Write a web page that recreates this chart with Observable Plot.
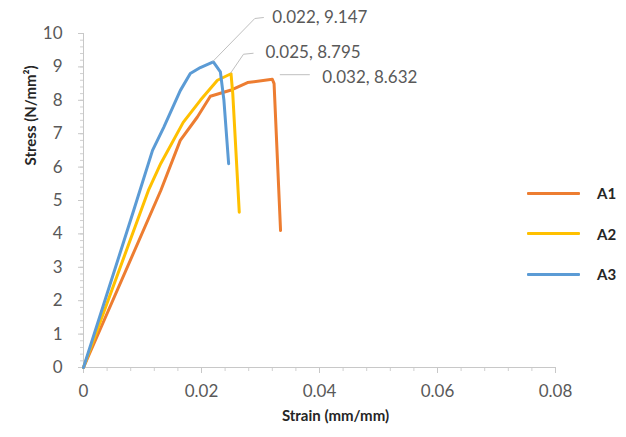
<!DOCTYPE html>
<html><head><meta charset="utf-8">
<script src="https://cdn.jsdelivr.net/npm/d3@7"></script>
<script src="https://cdn.jsdelivr.net/npm/@observablehq/plot@0.6"></script>
<style>
body{margin:0;background:#fff;}
#wrap{position:relative;width:626px;height:437px;}
#legend{position:absolute;left:527px;top:172.75px;font-family:Lato,sans-serif;font-weight:bold;font-size:15px;color:#262626;}
.item{display:flex;align-items:center;height:40.5px;}
.sw{width:53px;height:3px;margin-right:17px;border-radius:1px;}
</style></head><body><div id="wrap"><div id="legend"></div></div>
<script>
const seriesNames = ["A1", "A2", "A3"];
const seriesColors = ["#ED7D31", "#FFC000", "#5B9BD5"];

const a1Strain = [0, 0.0131, 0.0164, 0.0193, 0.0215, 0.0249, 0.0278, 0.032, 0.0323, 0.0334];
const a1Stress = [0, 5.3, 6.8, 7.5, 8.12, 8.3, 8.53, 8.632, 8.5, 4.1];

const a2Strain = [0, 0.0110, 0.0131, 0.0169, 0.0198, 0.0227, 0.025, 0.0253, 0.0264];
const a2Stress = [0, 5.3, 6.11, 7.34, 8.0, 8.6, 8.795, 8.2, 4.65];

const a3Strain = [0, 0.0085, 0.0117, 0.0136, 0.0164, 0.0181, 0.0198, 0.022, 0.0232, 0.0238, 0.0246];
const a3Stress = [0, 4.7, 6.5, 7.19, 8.29, 8.8, 8.98, 9.147, 8.85, 8.0, 6.1];

const peakStrain = [0.032, 0.025, 0.022];
const peakStress = [8.632, 8.795, 9.147];

const xTicks = [0, 0.02, 0.04, 0.06, 0.08];
const yTicks = [0, 1, 2, 3, 4, 5, 6, 7, 8, 9, 10];

const strains = [a1Strain, a2Strain, a3Strain];
const stresses = [a1Stress, a2Stress, a3Stress];
const table = seriesNames.flatMap((name, s) =>
  strains[s].map((x, i) => ({series: name, strain: x, stress: stresses[s][i]})));

// styling offsets (pixels) for leader lines and labels
const leaderOffsets = [
  [[8, -4], [38, -4]],
  [[0, 0], [13, -19], [23, -20]],
  [[0, 0], [42, -43], [51, -44]]
];
const labelOffsets = [[50, -2], [34.5, -21], [59, -44.5]];

const xMinor = d3.range(0, 0.0801, 0.004);
const yMinor = d3.range(0, 10.01, 0.2);

const marks = [
  Plot.axisY(yMinor, {tickSize: 3, text: null, label: null, stroke: "#d0d0d0"}),
  Plot.axisX(xMinor, {tickSize: 4, text: null, label: null, stroke: "#d0d0d0"}),
  Plot.axisY(yTicks, {tickSize: 5, tickPadding: 16, stroke: "#c8c8c8", fill: "#595959", fontSize: 17, label: null}),
  Plot.axisX(xTicks, {tickSize: 6, tickPadding: 11, stroke: "#c8c8c8", fill: "#595959", fontSize: 17, label: null, tickFormat: d => String(d)}),
  Plot.ruleX([0], {stroke: "#c8c8c8"}),
  Plot.ruleY([0], {stroke: "#c8c8c8"}),
  Plot.line(table, {x: "strain", y: "stress", stroke: "series", strokeWidth: 3, strokeLinejoin: "round", strokeLinecap: "round"}),
  (index, scales) => {
    const g = d3.create("svg:g");
    peakStrain.forEach((s, i) => {
      const px = scales.x(s), py = scales.y(peakStress[i]);
      const pts = leaderOffsets[i].map(([dx, dy]) => [px + dx, py + dy]);
      g.append("path").attr("d", d3.line()(pts)).attr("fill", "none")
        .attr("stroke", "#bfbfbf").attr("stroke-width", 1);
    });
    return g.node();
  },
  ...peakStrain.map((s, i) => Plot.text([i], {
    x: () => s, y: () => peakStress[i],
    text: () => `${s}, ${peakStress[i]}`,
    dx: labelOffsets[i][0], dy: labelOffsets[i][1],
    textAnchor: "start", fill: "#595959", fontSize: 17
  })),
  Plot.text(["Strain (mm/mm)"], {frameAnchor: "bottom", dx: 16, dy: 53, fontWeight: "bold", fontSize: 15, fill: "#262626"}),
  Plot.text(["Stress (N/mm²)"], {frameAnchor: "left", rotate: -90, dx: -52, dy: -35, fontWeight: "bold", fontSize: 15, fill: "#262626"})
];

const chart = Plot.plot({
  width: 626,
  height: 437,
  marginLeft: 83,
  marginRight: 71,
  marginTop: 33,
  marginBottom: 70,
  style: {fontFamily: "Lato, sans-serif", fontSize: "17px", background: "white", color: "#595959"},
  x: {domain: [0, 0.08], axis: null},
  y: {domain: [0, 10], axis: null},
  color: {domain: seriesNames, range: seriesColors},
  marks
});
document.getElementById("wrap").prepend(chart);

const legend = document.getElementById("legend");
seriesNames.forEach((n, i) => {
  const it = document.createElement("div");
  it.className = "item";
  const sw = document.createElement("div");
  sw.className = "sw";
  sw.style.background = seriesColors[i];
  const lb = document.createElement("span");
  lb.textContent = n;
  it.append(sw, lb);
  legend.append(it);
});
</script></body></html>
